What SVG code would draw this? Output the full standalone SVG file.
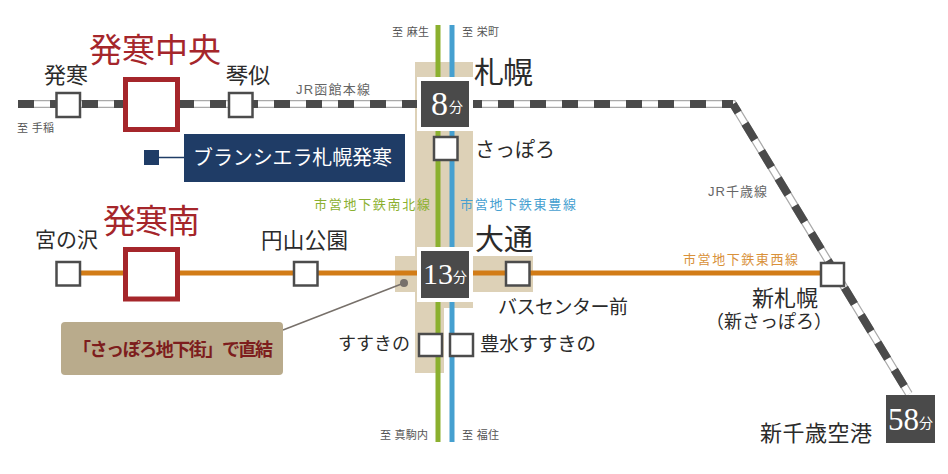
<svg xmlns="http://www.w3.org/2000/svg" width="948" height="474" viewBox="0 0 948 474">
<style>
text{font-family:"Liberation Serif","Noto Sans CJK JP",serif;fill:#2b2b2b;dominant-baseline:central}
.s{font-size:11px;fill:#555;font-family:"Liberation Sans","Noto Sans CJK JP",sans-serif}
.l{font-size:13px;font-family:"Liberation Sans","Noto Sans CJK JP",sans-serif}
.big{font-size:33px;fill:#a5262b}
.st{fill:#fff;stroke:#4c4c4c;stroke-width:2.5}
.red{fill:#fff;stroke:#a5262b;stroke-width:5}
.box{fill:#4a4a4a;stroke:#fff;stroke-width:4}
.rail{fill:none}
</style>
<rect width="948" height="474" fill="#fff"/>
<g id="bands" fill="#ddd1b7">
<rect x="415" y="62" width="58" height="246"/>
<rect x="415" y="308" width="29" height="65"/>
<rect x="395" y="256" width="138" height="36"/>
</g>
<g id="connectors" class="rail">
<path d="M438 25V442" stroke="#8bb02f" stroke-width="5"/>
<path d="M452 25V442" stroke="#46a0d0" stroke-width="5"/>
<path d="M80 273H820" stroke="#d27c17" stroke-width="5"/>
<path d="M18 104H733L909 394" stroke="#aaa" stroke-width="8"/>
<path d="M18 104H733L909 394" stroke="#fff" stroke-width="5.5"/>
<path d="M18 104H733" stroke="#4a4a4a" stroke-width="8" stroke-dasharray="16 16"/>
<path d="M733 104L909 394" stroke="#4a4a4a" stroke-width="8" stroke-dasharray="19 13" stroke-dashoffset="9"/>
<path d="M159 157.500H184" stroke="#1f3c66" stroke-width="1.500"/>
<path d="M283 330L404 283" stroke="#77706a" stroke-width="1.500"/>
</g>
<g id="hassamu"><rect class="st" x="56.500" y="93" width="23.500" height="24"/><text x="44" y="75" font-size="22" textLength="44">発寒</text></g>
<g id="hassam-chuo"><rect class="red" x="125.500" y="79.500" width="52" height="50"/><text class="big" x="89" y="51" textLength="132">発寒中央</text></g>
<g id="kotoni"><rect class="st" x="229" y="93" width="23.500" height="24"/><text x="226" y="75" font-size="22" textLength="44">琴似</text></g>
<g id="hakodate-label"><text class="l" x="296" y="89" style="fill:#666" textLength="74">JR函館本線</text></g>
<g id="teine-label"><text class="s" x="17" y="128" textLength="37">至 手稲</text></g>
<g id="blancsiera"><rect x="144" y="150" width="15" height="15" fill="#1f3c66"/><rect x="184" y="134" width="221" height="48" fill="#1f3c66"/><text style="fill:#fff" x="193" y="158" font-size="20" textLength="199">ブランシエラ札幌発寒</text></g>
<g id="to-labels">
<text class="s" x="392" y="32" textLength="37">至 麻生</text>
<text class="s" x="462" y="32" textLength="37">至 栄町</text>
<text class="s" x="380" y="435" textLength="48">至 真駒内</text>
<text class="s" x="462" y="435" textLength="37">至 福住</text>
</g>
<g id="sapporo"><rect class="box" x="419" y="79" width="52" height="50"/><text style="fill:#fff" x="431" y="103" font-size="34">8<tspan font-size="14" dx="1" dy="4">分</tspan></text><text x="474" y="72" font-size="30" textLength="59">札幌</text></g>
<g id="sapporo-sub"><rect class="st" x="434" y="137" width="23.500" height="23"/><text x="475" y="150" font-size="20" textLength="80">さっぽろ</text></g>
<g id="line-labels">
<text class="l" style="fill:#8bb02f" x="314" y="204" textLength="116">市営地下鉄南北線</text>
<text class="l" style="fill:#46a0d0" x="460" y="204" textLength="116">市営地下鉄東豊線</text>
<text class="l" style="fill:#d9913a" x="683" y="259" textLength="115">市営地下鉄東西線</text>
<text class="l" style="fill:#666" x="708" y="191" textLength="59">JR千歳線</text>
</g>
<g id="miyanosawa"><rect class="st" x="56.500" y="262" width="23.500" height="23.500"/><text x="35" y="240" font-size="21" textLength="63">宮の沢</text></g>
<g id="hassam-minami"><rect class="red" x="125.500" y="249.500" width="52" height="49.500"/><text class="big" x="103" y="222" textLength="97">発寒南</text></g>
<g id="maruyama"><rect class="st" x="294" y="262" width="23.500" height="23.500"/><text x="261" y="241" font-size="21.500" textLength="87">円山公園</text></g>
<g id="odori"><rect class="box" x="419" y="249" width="52" height="51"/><text style="fill:#fff" x="423" y="273" font-size="30">13<tspan font-size="14" dy="4">分</tspan></text><text x="475" y="240" font-size="29" textLength="58">大通</text></g>
<g id="bus-center"><rect class="st" x="506" y="262" width="23.500" height="23.500"/><text x="498" y="307" font-size="19" textLength="130">バスセンター前</text></g>
<g id="susukino"><rect class="st" x="419" y="334" width="23" height="22"/><text x="338" y="344" font-size="18" textLength="72">すすきの</text></g>
<g id="hosui"><rect class="st" x="450" y="334" width="23" height="22"/><text x="480" y="344" font-size="19.500" textLength="116">豊水すすきの</text></g>
<g id="shin-sapporo"><rect class="st" x="821" y="263" width="23" height="23"/><text x="752" y="298" font-size="22" textLength="66">新札幌</text><text x="706" y="322" font-size="18">（新さっぽろ）</text></g>
<g id="chitose"><rect x="886" y="395" width="49" height="48" fill="#4a4a4a"/><text style="fill:#fff" x="888" y="419" font-size="31">58<tspan font-size="14" dy="4">分</tspan></text><text x="760" y="433" font-size="22" textLength="112">新千歳空港</text></g>
<g id="callout"><rect x="61" y="322" width="222" height="53" rx="4" fill="#b9ab8c"/><circle cx="404" cy="283" r="4" fill="#77706a"/><text style="fill:#7d1d1d;font-weight:700;font-family:'Noto Sans CJK JP',sans-serif" x="73" y="348" font-size="18" textLength="200">「さっぽろ地下街」で直結</text></g>
</svg>
